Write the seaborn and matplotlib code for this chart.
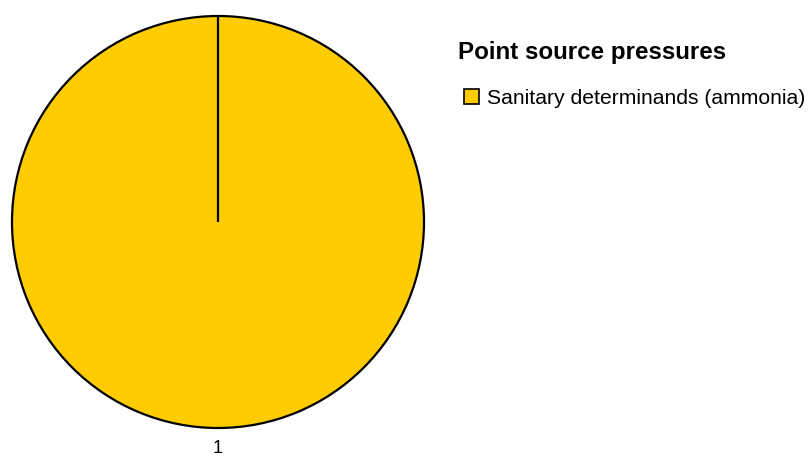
import matplotlib
matplotlib.use("Agg")
import numpy as np
import matplotlib.pyplot as plt
import seaborn as sns

# Point source pressure breakdown
categories = ["Sanitary determinands (ammonia)"]
values = [1]
slice_labels = ["1"]
colors = ["#FFCC00"]
legend_title = "Point source pressures"

sns.set_theme(style="white")
plt.rcParams["font.family"] = ["Liberation Sans", "DejaVu Sans"]
plt.rcParams["text.color"] = "black"

fig = plt.figure(figsize=(8.09, 4.59), dpi=100)
W, H = 809, 459
cx, cy, r = 218, 222, 206
ax = fig.add_axes([(cx - r) / W, (H - cy - r) / H, 2 * r / W, 2 * r / H])

start = 90
wedges, texts = ax.pie(
    values,
    labels=slice_labels,
    colors=colors,
    startangle=start,
    counterclock=False,
    labeldistance=1.1,
    wedgeprops=dict(edgecolor="black", linewidth=1.6),
    textprops=dict(fontsize=13, color="black"),
)
for t in texts:
    t.set_horizontalalignment("center")

# radial boundary lines between slices (a lone slice still shows its start edge)
bounds = start - 360 * np.cumsum([0] + values[:-1]) / sum(values)
for a in np.deg2rad(bounds):
    ax.plot([0, np.cos(a)], [0, np.sin(a)], color="black", linewidth=1.6,
            solid_capstyle="butt", zorder=3)

ax.set_xlim(-1.0, 1.0)
ax.set_ylim(-1.0, 1.0)
ax.set_aspect("equal")
ax.axis("off")

fig.text(458 / W, 1 - 53 / H, legend_title, fontsize=17.4, fontweight="bold",
         color="black", ha="left", va="center")

leg = fig.legend(
    wedges, categories,
    loc="center left",
    bbox_to_anchor=(464 / W, 1 - 98 / H),
    frameon=False,
    fontsize=15.2,
    handlelength=0.72,
    handleheight=0.72,
    handletextpad=0.35,
    borderpad=0,
    borderaxespad=0,
)
for h in leg.legend_handles:
    h.set_linewidth(1.2)
for t in leg.get_texts():
    t.set_color("black")

fig.savefig("out.png", dpi=100)
